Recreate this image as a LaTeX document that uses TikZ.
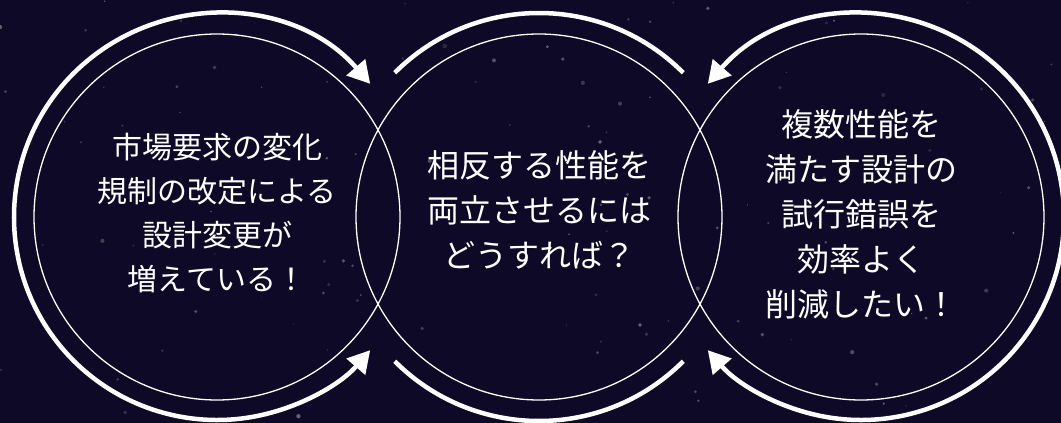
\documentclass[tikz,border=0pt]{standalone}
\usepackage{fontspec}
\newfontfamily\cjk{Noto Sans CJK JP}
\usetikzlibrary{arrows.meta}
\definecolor{bgnavy}{RGB}{14,9,38}
\tikzset{
  ring/.style={circle, draw=white, line width=1.3pt, minimum size=366pt, inner sep=0pt},
  txt/.style={text=white, align=center, font=\cjk\fontsize{32}{45}\selectfont},
  txtsmall/.style={text=white, align=center, font=\cjk\fontsize{30}{44}\selectfont},
  loop/.style={draw=white, line width=4.5pt, line cap=butt},
  looparrow/.style={loop, {Triangle[length=22pt,width=24pt]}-{Triangle[length=22pt,width=24pt]}}
}
\begin{document}
\begin{tikzpicture}[x=1pt,y=1pt]
\fill[bgnavy] (0,0) rectangle (1061,-423);
\useasboundingbox (0,0) rectangle (1061,-423);
% faint stars
\pgfmathsetseed{11}
\foreach \i in {1,...,110}{
  \pgfmathsetmacro\xx{rnd*1061}
  \pgfmathsetmacro\yy{rnd*423}
  \pgfmathsetmacro\rr{0.6+rnd*1.6}
  \pgfmathsetmacro\oo{0.12+rnd*0.25}
  \fill[white, opacity=\oo] (\xx,-\yy) circle (\rr);
}
% circles
\node[ring] (c1) at (217,-217) {};
\node[ring] (c2) at (539,-217) {};
\node[ring] (c3) at (861,-217) {};
% texts
\node[txtsmall] (t1) at (217,-213) {市場要求の変化\\規制の改定による\\設計変更が\\増えている！};
\node[txt] (t2) at (539,-210) {相反する性能を\\両立させるには\\どうすれば？};
\node[txt] (t3) at (861,-214) {複数性能を\\満たす設計の\\試行錯誤を\\効率よく\\削減したい！};
% outer arcs
\draw[looparrow] (c1.center) ++(41:203) arc[start angle=41, end angle=319, radius=203];
\draw[loop] (c2.center) ++(45:204) arc[start angle=45, end angle=135, radius=204];
\draw[loop] (c2.center) ++(-135:204) arc[start angle=-135, end angle=-45, radius=204];
\draw[looparrow] (c3.center) ++(139:203) arc[start angle=139, end angle=-139, radius=203];
\end{tikzpicture}
\end{document}
